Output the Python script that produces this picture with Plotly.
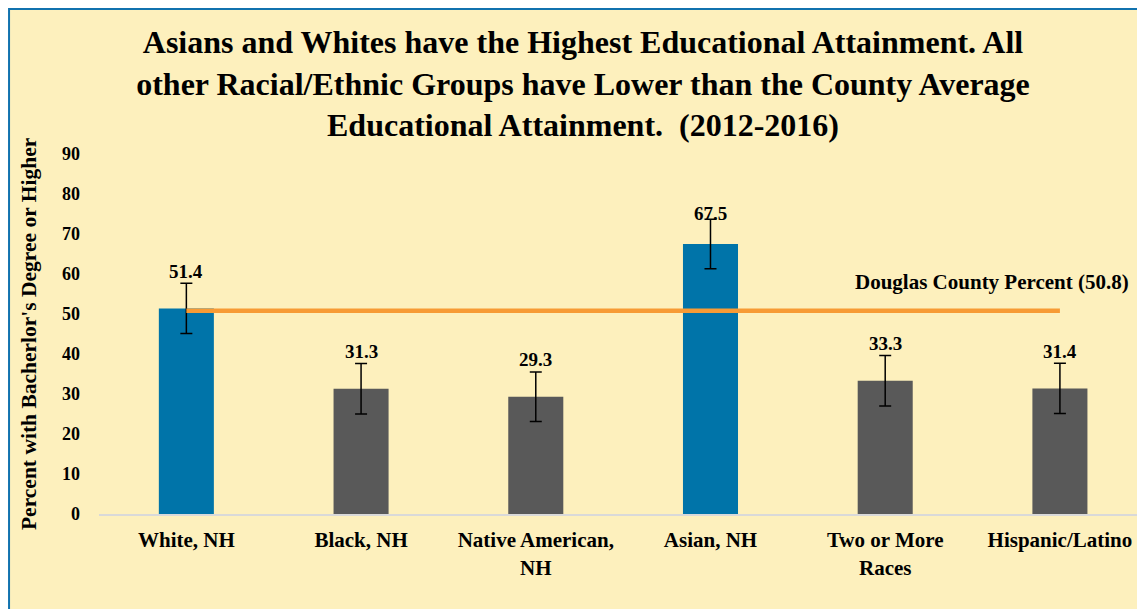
import plotly.graph_objects as go

### Data
groups = ['White, NH', 'Black, NH', 'Native American,<br>NH', 'Asian, NH',
          'Two or More<br>Races', 'Hispanic/Latino']
pct_bachelor = [51.4, 31.3, 29.3, 67.5, 33.3, 31.4]
moe = [6.3, 6.3, 6.2, 6.2, 6.3, 6.3]
county_pct = 50.8
highlight = ['White, NH', 'Asian, NH']

BLUE = '#0074A9'
GREY = '#595959'
ORANGE = '#F79B35'
CREAM = '#FDF0BD'
FONT = 'Liberation Serif'

bar_colors = [BLUE if g in highlight else GREY for g in groups]

fig = go.Figure()

# bars with margin of error
fig.add_trace(
    go.Bar(
        x=groups,
        y=pct_bachelor,
        marker=dict(color=bar_colors, line=dict(width=0)),
        error_y=dict(type='data', array=moe, visible=True,
                     color='black', thickness=1.5, width=6),
        showlegend=False
    ))

# county average line
fig.add_trace(
    go.Scatter(
        x=groups,
        y=[county_pct] * len(groups),
        mode='lines',
        line=dict(color=ORANGE, width=4.5),
        showlegend=False
    ))

# value labels above the bars
annotations = []
for g, v in zip(groups, pct_bachelor):
    annotations.append(dict(
        x=g, y=v, text=f'<b>{v}</b>', showarrow=False,
        yshift=31 if g == 'Asian, NH' else 37,
        font=dict(family=FONT, size=19, color='black')))

annotations.append(dict(
    x=0.8537, y=0.644, xref='paper', yref='paper',
    xanchor='center', yanchor='middle',
    text=f'<b>Douglas County Percent ({county_pct})</b>', showarrow=False,
    font=dict(family=FONT, size=21, color='black')))

# y axis title
annotations.append(dict(
    x=-0.0669, y=0.5, xref='paper', yref='paper', textangle=-90,
    xanchor='center', yanchor='middle',
    text="<b>Percent with Bacherlor's Degree or Higher</b>", showarrow=False,
    font=dict(family=FONT, size=21.5, color='black')))

fig.update_layout(
    width=1137,
    height=601,
    margin=dict(l=91, r=0, t=146, b=95),
    title={
        'text': '<b>Asians and Whites have the Highest Educational Attainment. All<br>'
                'other Racial/Ethnic Groups have Lower than the County Average<br>'
                'Educational Attainment.  (2012-2016)</b>',
        'x': 575 / 1137,
        'xanchor': 'center',
        'y': 1 - 45 / 601,
        'yanchor': 'middle',
        'font': dict(family=FONT, size=32, color='black')},
    paper_bgcolor='white',
    plot_bgcolor='rgba(0,0,0,0)',
    bargap=0.685,
    annotations=annotations,
    shapes=[dict(type='rect', xref='paper', yref='paper', layer='below',
                 x0=-0.0860, x1=1.03, y0=-0.3, y1=1.4028,
                 fillcolor=CREAM, line=dict(color='#1172AE', width=2))],
    xaxis=dict(range=[-0.5, 5.487], showline=True, linecolor='#D9D9D9',
               linewidth=2, ticks='', showgrid=False, zeroline=False,
               ticklabelstandoff=6,
               tickfont=dict(family=FONT, size=21, color='black')),
    yaxis=dict(range=[0, 90], dtick=10, showgrid=False, zeroline=False,
               showline=False, ticks='', ticklabelstandoff=18,
               tickfont=dict(family=FONT, size=18, color='black'))
)
fig.update_xaxes(tickprefix='<b>', ticksuffix='</b>')
fig.update_yaxes(tickprefix='<b>', ticksuffix='</b>')

fig.write_html("out.html")
